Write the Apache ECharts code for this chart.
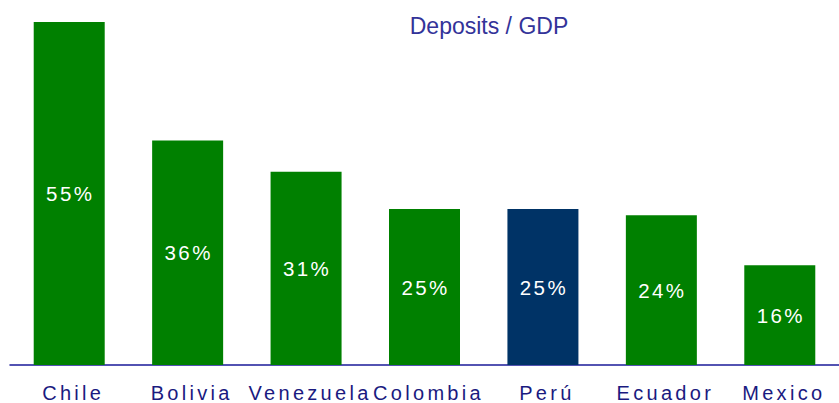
<!DOCTYPE html>
<html>
<head>
<meta charset="utf-8">
<script src="https://cdn.jsdelivr.net/npm/echarts@6/dist/echarts.min.js"></script>
<style>
  html, body { margin: 0; padding: 0; background: #ffffff; }
  #chart { width: 839px; height: 403px; }
</style>
</head>
<body>
<div id="chart"></div>
<script>
// Deposits as a share of GDP by country
const countries = ['Chile', 'Bolivia', 'Venezuela', 'Colombia', 'Perú', 'Ecuador', 'Mexico'];
const depositsGdp = [55, 36, 31, 25, 25, 24, 16];
const highlighted = 'Perú';
const titleText = 'Deposits / GDP';

const GREEN = '#008000';
const NAVY = '#003366';
const FONT = 'Liberation Sans, Arial, sans-serif';

const chart = echarts.init(document.getElementById('chart'), null, { renderer: 'svg' });

chart.setOption({
  animation: false,
  backgroundColor: '#ffffff',
  title: {
    text: titleText,
    left: 484,
    top: 9,
    textAlign: 'center',
    textStyle: {
      color: '#333399',
      fontFamily: FONT,
      fontSize: 23,
      fontWeight: 'normal'
    }
  },
  grid: { left: 10, top: 22, width: 833, bottom: 38, containLabel: false },
  xAxis: {
    type: 'category',
    data: countries,
    axisLine: { lineStyle: { color: '#1a1a99', width: 1.5 } },
    axisTick: { show: false },
    axisLabel: {
      color: '#1a1a80',
      fontFamily: FONT,
      fontSize: 20,
      margin: 18,
      padding: [0, 0, 0, 8],
      interval: 0
    }
  },
  yAxis: {
    type: 'value',
    min: 0,
    max: 55,
    show: false,
    splitLine: { show: false }
  },
  series: [{
    type: 'bar',
    barWidth: 71,
    data: depositsGdp.map((v, i) => ({
      value: v,
      itemStyle: { color: countries[i] === highlighted ? NAVY : GREEN }
    })),
    label: {
      show: true,
      position: 'inside',
      offset: [1, 0],
      formatter: p => p.value + '%',
      color: '#ffffff',
      fontFamily: FONT,
      fontSize: 20.5
    }
  }]
});

// Wide tracking on the axis and value labels; the title keeps normal spacing
function applyTracking() {
  const labels = new Set(countries);
  document.querySelectorAll('#chart svg text').forEach(t => {
    const s = t.textContent;
    if (s === titleText) return;
    t.style.letterSpacing = labels.has(s) ? '3.3px' : '2.4px';
  });
}
applyTracking();
chart.on('finished', applyTracking);
</script>
</body>
</html>
